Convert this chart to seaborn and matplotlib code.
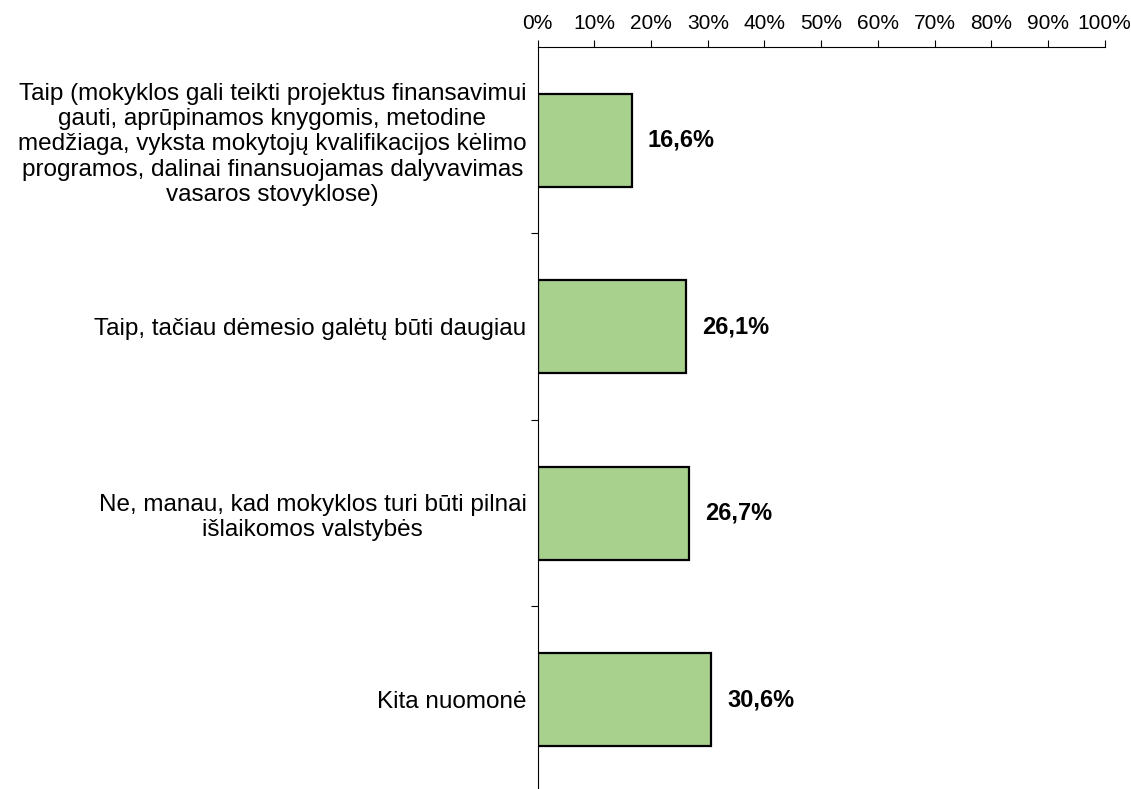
import matplotlib

matplotlib.use("Agg")
import matplotlib.pyplot as plt
import pandas as pd
import seaborn as sns
from matplotlib.ticker import FixedLocator, PercentFormatter

categories = [
    "Taip (mokyklos gali teikti projektus finansavimui\n"
    "gauti, aprūpinamos knygomis, metodine\n"
    "medžiaga, vyksta mokytojų kvalifikacijos kėlimo\n"
    "programos, dalinai finansuojamas dalyvavimas\n"
    "vasaros stovyklose)",
    "Taip, tačiau dėmesio galėtų būti daugiau",
    "Ne, manau, kad mokyklos turi būti pilnai\nišlaikomos valstybės",
    "Kita nuomonė",
]
values = [16.6, 26.1, 26.7, 30.6]
value_labels = ["16,6%", "26,1%", "26,7%", "30,6%"]
x_ticks = list(range(0, 101, 10))

sns.set_theme(style="white")
plt.rcParams["font.family"] = ["Liberation Sans", "DejaVu Sans"]

df = pd.DataFrame({"category": categories, "value": values})

fig = plt.figure(figsize=(11.31, 7.89), dpi=100)
ax = fig.add_axes([0.4754, -0.005, 0.5013, 0.9455])

sns.barplot(data=df, x="value", y="category", orient="h", color="#A9D18E",
            edgecolor="black", linewidth=1.6, width=0.5, saturation=1, ax=ax)

ax.set_xlim(0, 100)
ax.set_ylim(3.5, -0.5)
ax.set_xlabel("")
ax.set_ylabel("")

# percent axis on top
ax.xaxis.tick_top()
ax.set_xticks(x_ticks)
ax.xaxis.set_major_formatter(PercentFormatter(decimals=0))
ax.tick_params(axis="x", which="major", direction="out", length=5, width=0.8,
               color="black", labelsize=15, pad=5, labelcolor="black")

# category labels, tick marks between categories
ax.tick_params(axis="y", which="major", length=0, pad=8, labelsize=17.5,
               labelcolor="black")
ax.yaxis.set_minor_locator(FixedLocator([0.5, 1.5, 2.5]))
ax.tick_params(axis="y", which="minor", direction="out", length=5, width=0.8,
               color="black", left=True)
for lab in ax.get_yticklabels():
    lab.set_multialignment("center")
    lab.set_linespacing(1.2)

for sp in ["bottom", "right"]:
    ax.spines[sp].set_visible(False)
for sp in ["top", "left"]:
    ax.spines[sp].set_color("black")
    ax.spines[sp].set_linewidth(0.8)

for i, (v, lab) in enumerate(zip(values, value_labels)):
    ax.annotate(lab, xy=(v, i), xytext=(11.5, 0), textcoords="offset points",
                ha="left", va="center", fontsize=17, fontweight="bold",
                color="black")

fig.savefig("out.png", dpi=100)
